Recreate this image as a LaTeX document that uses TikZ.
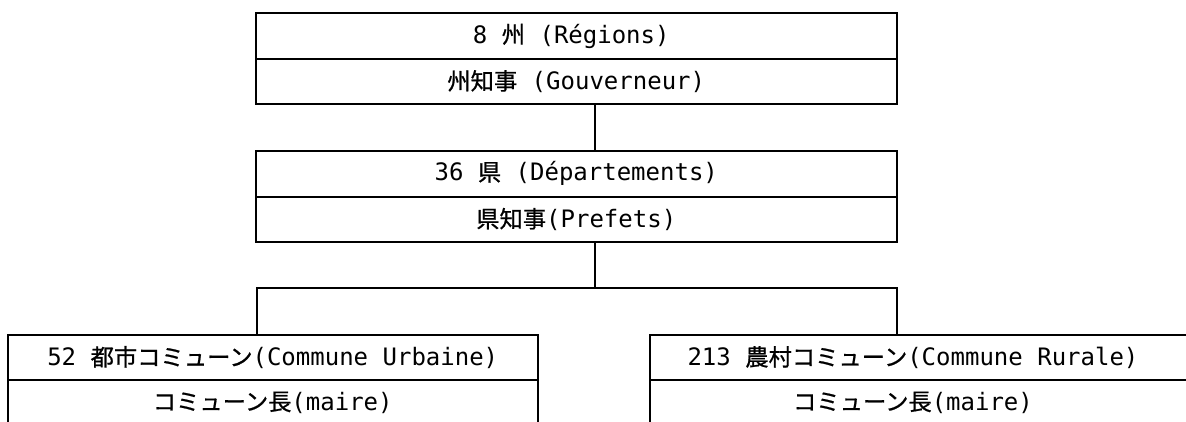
\documentclass[tikz,border=0pt]{standalone}
\usepackage{fontspec}
\newfontfamily\jpfont{Noto Sans CJK JP}[FakeBold=0.8]
\newfontfamily\latfont{DejaVu Sans Mono}
\newcommand\J[1]{{\fontsize{23.3}{26}\jpfont #1}}
\begin{document}
\begin{tikzpicture}[x=1pt,y=-1pt,
  line width=2pt,
  cell/.style={draw, rectangle, inner sep=0pt, anchor=center,
    font=\fontsize{24}{28}\latfont},
  link/.style={draw, line width=2pt}]
\useasboundingbox (0,0) rectangle (1186,422);
\fill[white] (0,0) rectangle (1186,422);
% top box
\node[cell, minimum width=641.5pt, minimum height=46pt] (reg) at (576.25,36) {\hspace*{-10pt}8 \J{州} (Régions)};
\node[cell, minimum width=641.5pt, minimum height=45pt] (gov) at (576.25,81.5) {\J{州知事} (Gouverneur)};
% second box
\node[cell, minimum width=641.5pt, minimum height=46pt] (dep) at (576.25,173.7) {36 \J{県} (Départements)};
\node[cell, minimum width=641.5pt, minimum height=45.3pt] (pref) at (576.25,219.35) {\J{県知事}(Prefets)};
% bottom left
\node[cell, minimum width=530.5pt, minimum height=45pt] (urb) at (272.75,357.5) {52 \J{都市コミューン}(Commune Urbaine)};
\node[cell, minimum width=530.5pt, minimum height=45pt] (mairel) at (272.75,402.5) {\J{コミューン長}(maire)};
% bottom right
\node[cell, minimum width=540pt, minimum height=45pt] (rur) at (920,357.5) {\hspace*{-14pt}213 \J{農村コミューン}(Commune Rurale)};
\node[cell, minimum width=540pt, minimum height=45pt] (mairer) at (920,402.5) {\hspace*{-14pt}\J{コミューン長}(maire)};
% connectors
\coordinate (m) at (594.5,0);
\coordinate (hub) at (594.5,288.3);
\coordinate (cl) at (257,288.3);
\coordinate (cr) at (897,288.3);
\draw[link] (m |- gov.south) -- (m |- dep.north);
\draw[link] (hub |- pref.south) -- (hub);
\draw[link] (cl |- urb.north) -- (cl) -- (cr) -- (cr |- rur.north);
\end{tikzpicture}
\end{document}
